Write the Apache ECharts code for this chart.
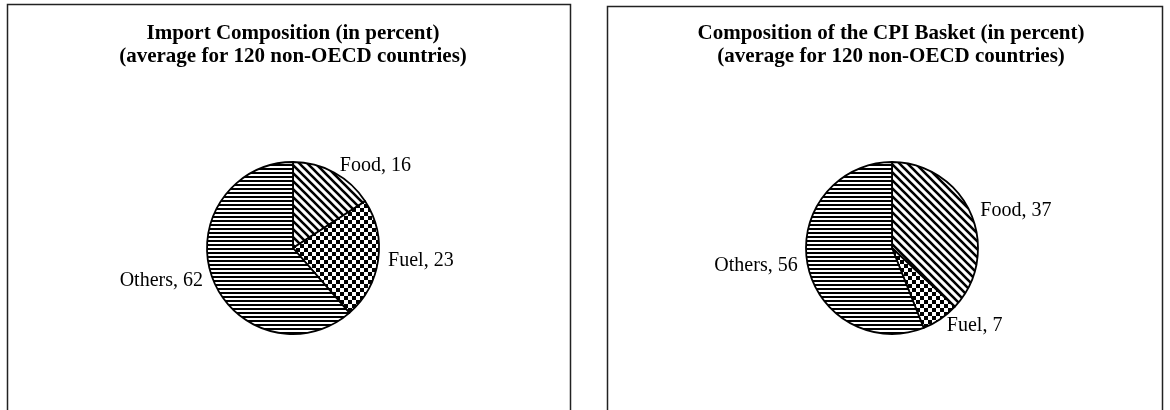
<!DOCTYPE html>
<html>
<head>
<meta charset="utf-8">
<title>Import and CPI composition</title>
<script src="https://cdn.jsdelivr.net/npm/echarts@6/dist/echarts.min.js"></script>
<style>
    html, body { margin: 0; padding: 0; background: #fff; }
    #container { width: 1170px; height: 410px; }
</style>
</head>
<body>
<div id="container"></div>
<script>
    // data
    var categories = ['Food', 'Fuel', 'Others'];
    var importShares = [16, 23, 62];
    var cpiShares = [37, 7, 56];
    var titles = [
        'Import Composition (in percent)\n(average for 120 non-OECD countries)',
        'Composition of the CPI Basket (in percent)\n(average for 120 non-OECD countries)'
    ];

    // black and white fill patterns, like the old excel hatches
    function makePattern(kind) {
        var c = document.createElement('canvas');
        var ctx = c.getContext('2d');
        if (kind === 'diag') {
            c.width = 8; c.height = 8;
            ctx.fillStyle = '#fff';
            ctx.fillRect(0, 0, 8, 8);
            ctx.strokeStyle = '#000';
            ctx.lineWidth = 2.6;
            ctx.beginPath();
            ctx.moveTo(-2, -2); ctx.lineTo(10, 10);
            ctx.moveTo(-2, 6); ctx.lineTo(2, 10);
            ctx.moveTo(6, -2); ctx.lineTo(10, 2);
            ctx.stroke();
        } else if (kind === 'check') {
            c.width = 8; c.height = 8;
            ctx.fillStyle = '#fff';
            ctx.fillRect(0, 0, 8, 8);
            ctx.fillStyle = '#000';
            ctx.fillRect(0, 0, 4, 4);
            ctx.fillRect(4, 4, 4, 4);
        } else {
            c.width = 4; c.height = 4;
            ctx.fillStyle = '#fff';
            ctx.fillRect(0, 0, 4, 4);
            ctx.fillStyle = '#000';
            ctx.fillRect(0, 0, 4, 2);
        }
        return {image: c, repeat: 'repeat'};
    }

    var fills = [makePattern('diag'), makePattern('check'), makePattern('horiz')];

    function buildData(values) {
        return values.map(function (v, i) {
            return {name: categories[i], value: v, itemStyle: {color: fills[i]}};
        });
    }

    var serif = '"Liberation Serif", "Times New Roman", serif';

    function pieSeries(values, cx) {
        return {
            type: 'pie',
            center: [cx, 248],
            radius: 86,
            startAngle: 90,
            clockwise: true,
            silent: true,
            animation: false,
            avoidLabelOverlap: false,
            itemStyle: {borderColor: '#000', borderWidth: 1.8},
            label: {
                show: true,
                position: 'outside',
                formatter: '{b}, {c}',
                color: '#000',
                fontFamily: serif,
                fontSize: 20,
                distanceToLabelLine: 2
            },
            labelLine: {show: false, length: 8, length2: 0},
            data: buildData(values)
        };
    }

    var dom = document.getElementById('container');
    var myChart = echarts.init(dom);

    var titleStyle = {fontFamily: serif, fontWeight: 'bold', fontSize: 21, lineHeight: 23, color: '#000'};

    var option = {
        backgroundColor: '#fff',
        title: [
            {text: titles[0], left: 288, top: 17, textAlign: 'center', textStyle: titleStyle},
            {text: titles[1], left: 886, top: 17, textAlign: 'center', textStyle: titleStyle}
        ],
        graphic: [
            {type: 'rect', shape: {x: 7.5, y: 4.5, width: 563, height: 430},
                style: {fill: 'none', stroke: '#222', lineWidth: 1.5}, silent: true},
            {type: 'rect', shape: {x: 607.5, y: 6.5, width: 555, height: 430},
                style: {fill: 'none', stroke: '#222', lineWidth: 1.5}, silent: true}
        ],
        series: [
            pieSeries(importShares, 293),
            pieSeries(cpiShares, 892)
        ]
    };

    myChart.setOption(option);
</script>
</body>
</html>
